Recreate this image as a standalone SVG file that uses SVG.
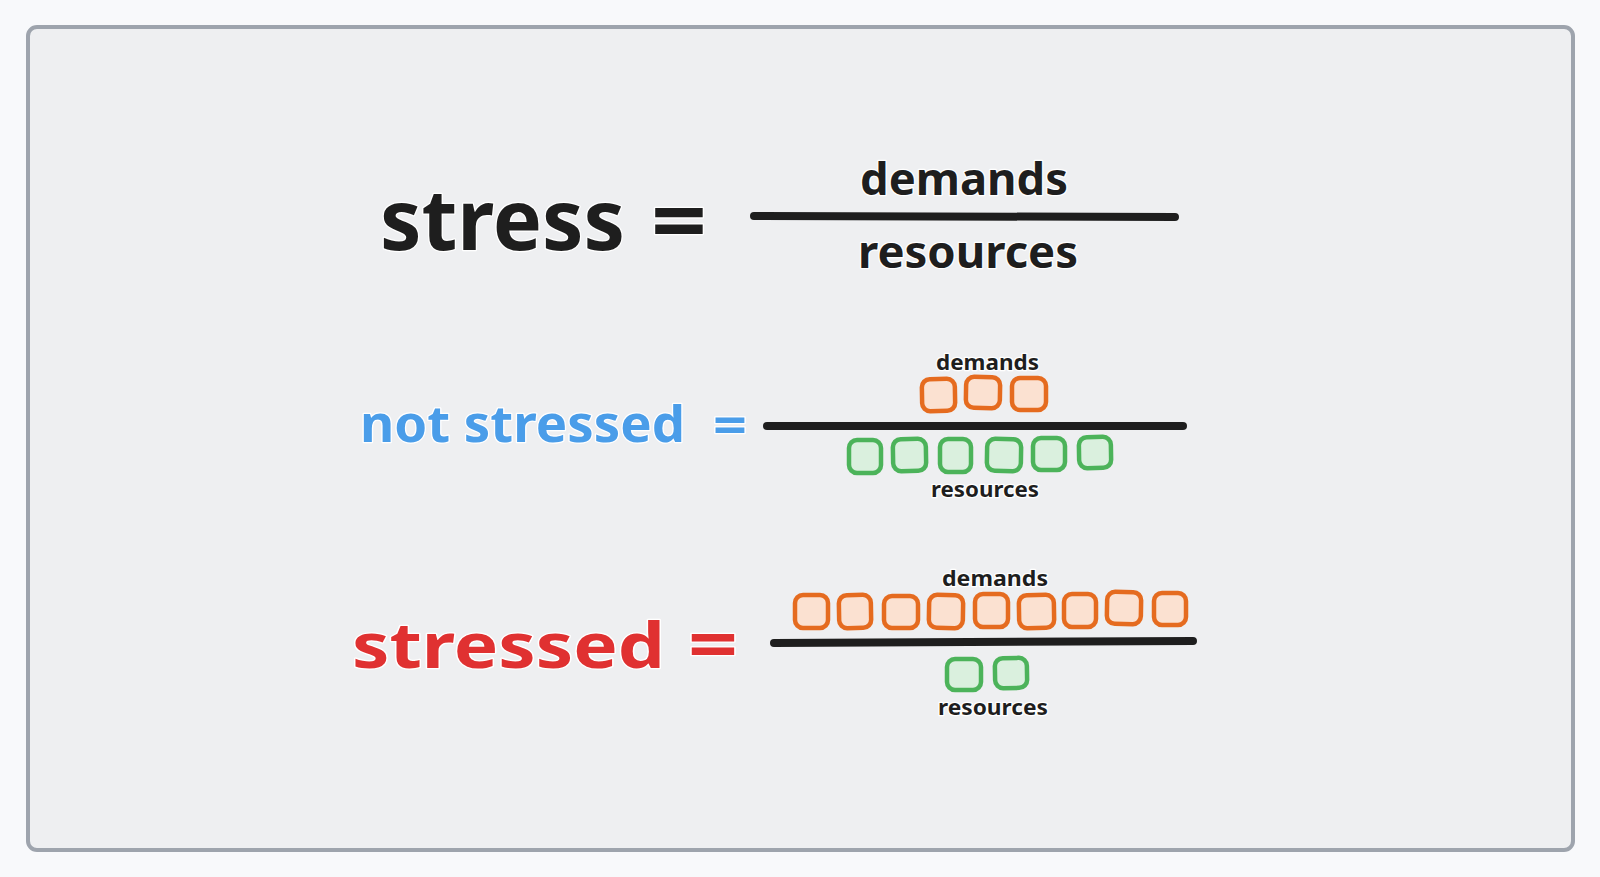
<svg xmlns="http://www.w3.org/2000/svg" width="1600" height="877" viewBox="0 0 1600 877">
  <style>
    .t { font-family: "Noto Sans", "Open Sans", sans-serif; font-weight: 700; paint-order: stroke; stroke: #ffffff; stroke-width: 2.5; stroke-linejoin: round; }
    .dark { fill: #1e1e1e; }
    .blue { fill: #4a9de9; }
    .red { fill: #e03131; }
    .bar { stroke: #1e1e1e; stroke-width: 8; stroke-linecap: round; fill: none; }
    .ob { fill: #fbe1d1; stroke: #e56b1f; stroke-width: 4.5; }
    .gb { fill: #daf0de; stroke: #4cb35a; stroke-width: 4.5; }
  </style>
  <rect x="0" y="0" width="1600" height="877" fill="#f8f9fb"/>
  <rect x="28" y="27" width="1545" height="823" rx="9" fill="#eeeff1" stroke="#9ea4ad" stroke-width="4"/>

  <g id="formula">
    <text class="t dark" x="380" y="250" font-size="84" textLength="245" lengthAdjust="spacingAndGlyphs">stress</text>
    <text class="t dark" x="651" y="252" font-size="88" textLength="56" lengthAdjust="spacingAndGlyphs">=</text>
    <text class="t dark" x="860" y="195" font-size="45" textLength="208" lengthAdjust="spacingAndGlyphs">demands</text>
    <text class="t dark" x="858" y="268" font-size="45" textLength="220" lengthAdjust="spacingAndGlyphs">resources</text>
  </g>

  <g id="not-stressed">
    <text class="t blue" x="360" y="442" font-size="50" textLength="325" lengthAdjust="spacingAndGlyphs">not stressed</text>
    <text class="t blue" x="713" y="444" font-size="52" textLength="34" lengthAdjust="spacingAndGlyphs">=</text>
    <text class="t dark" x="936" y="370" font-size="22" textLength="103" lengthAdjust="spacingAndGlyphs">demands</text>
    <text class="t dark" x="931" y="497" font-size="22" textLength="108" lengthAdjust="spacingAndGlyphs">resources</text>
    <g id="ns-demands">
      <rect class="ob" x="922" y="379" width="33" height="32" rx="8" transform="rotate(-1 938 395)"/>
      <rect class="ob" x="966" y="377" width="34" height="31" rx="8" transform="rotate(1 983 392)"/>
      <rect class="ob" x="1012" y="378" width="34" height="32" rx="8"/>
    </g>
    <g id="ns-resources">
      <rect class="gb" x="849" y="440" width="32" height="33" rx="8"/>
      <rect class="gb" x="893" y="439" width="33" height="32" rx="8" transform="rotate(-1 909 455)"/>
      <rect class="gb" x="940" y="439" width="31" height="33" rx="8"/>
      <rect class="gb" x="987" y="439" width="34" height="32" rx="8" transform="rotate(1 1004 455)"/>
      <rect class="gb" x="1033" y="438" width="32" height="32" rx="8"/>
      <rect class="gb" x="1079" y="437" width="32" height="31" rx="8" transform="rotate(-1 1095 452)"/>
    </g>
  </g>

  <g id="stressed">
    <text class="t red" x="352" y="668" font-size="62" textLength="313" lengthAdjust="spacingAndGlyphs">stressed</text>
    <text class="t red" x="688" y="669" font-size="70" textLength="50" lengthAdjust="spacingAndGlyphs">=</text>
    <text class="t dark" x="942" y="586" font-size="22" textLength="106" lengthAdjust="spacingAndGlyphs">demands</text>
    <text class="t dark" x="938" y="715" font-size="22" textLength="110" lengthAdjust="spacingAndGlyphs">resources</text>
    <g id="s-demands">
      <rect class="ob" x="795" y="595" width="33" height="33" rx="8"/>
      <rect class="ob" x="839" y="595" width="32" height="33" rx="8" transform="rotate(-1 855 611)"/>
      <rect class="ob" x="884" y="596" width="34" height="32" rx="8"/>
      <rect class="ob" x="929" y="595" width="34" height="33" rx="8" transform="rotate(1 946 611)"/>
      <rect class="ob" x="975" y="594" width="33" height="33" rx="8"/>
      <rect class="ob" x="1019" y="595" width="35" height="33" rx="8" transform="rotate(-1 1036 611)"/>
      <rect class="ob" x="1064" y="594" width="32" height="33" rx="8"/>
      <rect class="ob" x="1107" y="592" width="34" height="32" rx="8" transform="rotate(1 1124 608)"/>
      <rect class="ob" x="1154" y="593" width="32" height="32" rx="8"/>
    </g>
    <g id="s-resources">
      <rect class="gb" x="947" y="659" width="34" height="31" rx="8"/>
      <rect class="gb" x="995" y="658" width="32" height="30" rx="8" transform="rotate(-1 1011 673)"/>
    </g>
  </g>

  <g id="connectors">
    <path class="bar" d="M754 216 L1175 217"/>
    <path class="bar" d="M767 426 L1183 426"/>
    <path class="bar" d="M774 643 L1193 641"/>
  </g>
</svg>
